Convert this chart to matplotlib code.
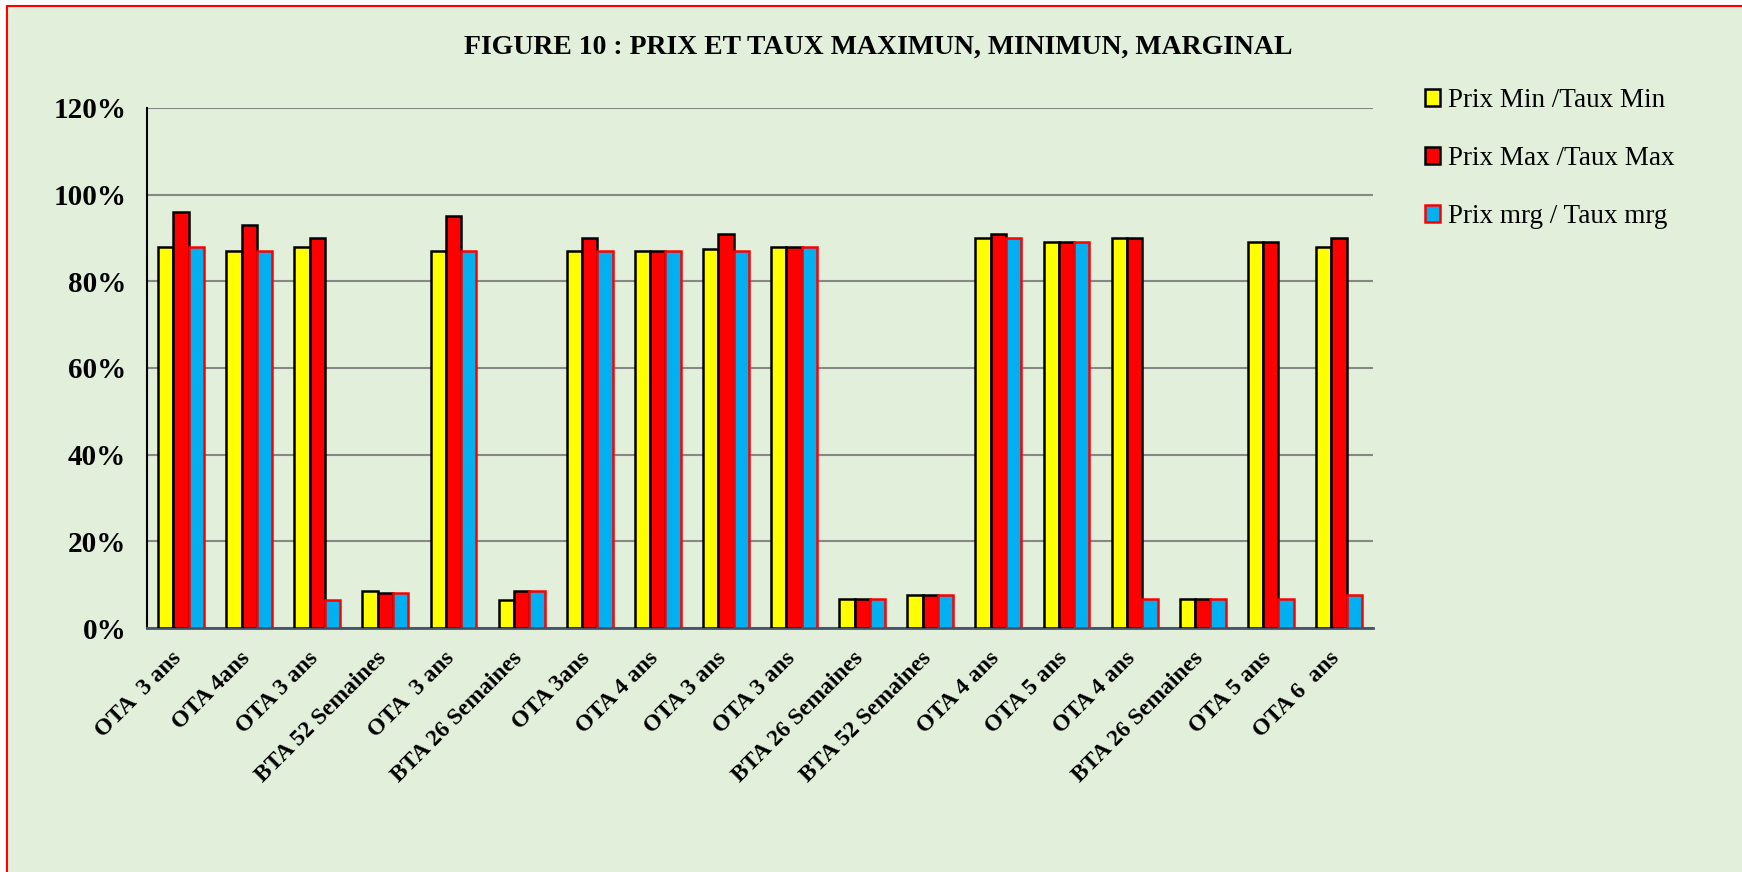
import matplotlib.pyplot as plt
import matplotlib.transforms as mtransforms
from matplotlib.patches import Rectangle, Patch
from matplotlib.ticker import PercentFormatter
import numpy as np

categories = ["OTA  3 ans", "OTA 4ans", "OTA 3 ans", "BTA 52 Semaines", "OTA  3 ans",
              "BTA 26 Semaines", "OTA 3ans", "OTA 4 ans", "OTA 3 ans", "OTA 3 ans",
              "BTA 26 Semaines", "BTA 52 Semaines", "OTA 4 ans", "OTA 5 ans", "OTA 4 ans",
              "BTA 26 Semaines", "OTA 5 ans", "OTA 6  ans"]
prix_min = [88, 87, 88, 8.6, 87, 6.5, 87, 87, 87.5, 88, 6.6, 7.6, 90, 89, 90, 6.6, 89, 88]
prix_max = [96, 93, 90, 8.1, 95, 8.6, 90, 87, 91, 88, 6.6, 7.6, 91, 89, 90, 6.6, 89, 90]
prix_mrg = [88, 87, 6.5, 8.1, 87, 8.6, 87, 87, 87, 88, 6.6, 7.6, 90, 89, 6.6, 6.6, 6.6, 7.6]
series_labels = ["Prix Min /Taux Min", "Prix Max /Taux Max", "Prix mrg / Taux mrg"]
yticks = [0, 20, 40, 60, 80, 100, 120]

bg = "#E2EFDA"
plt.rcParams["font.family"] = ["Liberation Serif", "DejaVu Serif"]

fig = plt.figure(figsize=(17.42, 8.72), dpi=100, facecolor="white")
frame = Rectangle((7 / 1742, -0.1), 1.2, 0.1 + 866 / 872, transform=fig.transFigure,
                  facecolor=bg, edgecolor="#FF0000", linewidth=1.5, zorder=-5)
fig.patches.append(frame)

ax = fig.add_axes([147 / 1742, 1 - 628 / 872, 1226 / 1742, 520 / 872])
ax.patch.set_alpha(0)

x = np.arange(len(categories))
w = 0.225
ax.bar(x - w, prix_min, w, color="#FFFF00", edgecolor="black", linewidth=1.8, zorder=3)
ax.bar(x, prix_max, w, color="#FF0000", edgecolor="black", linewidth=1.8, zorder=3)
ax.bar(x + w, prix_mrg, w, color="#00B0F0", edgecolor="#FF0000", linewidth=1.8, zorder=3)

ax.set_xlim(-0.5, len(categories) - 0.5)
ax.set_ylim(0, 120)
ax.set_yticks(yticks)
ax.yaxis.set_major_formatter(PercentFormatter(xmax=100, decimals=0))
ax.yaxis.grid(True, color="#878787", linewidth=1.5, zorder=0)
ax.set_axisbelow(True)
ax.tick_params(axis="y", length=0, pad=15)
ax.tick_params(axis="x", length=0, pad=14)
for lab in ax.get_yticklabels():
    lab.set_fontsize(21)
    lab.set_fontweight("bold")

ax.set_xticks(x)
ax.set_xticklabels(categories, rotation=45, ha="right", va="top",
                   fontsize=17, fontweight="bold")
shift = mtransforms.ScaledTranslation(5 / 100, 0, fig.dpi_scale_trans)
for lab in ax.get_xticklabels():
    lab.set_transform(lab.get_transform() + shift)

for s in ["top", "right"]:
    ax.spines[s].set_visible(False)
ax.spines["left"].set_color("black")
ax.spines["left"].set_linewidth(1.5)
ax.spines["bottom"].set_color("#44546A")
ax.spines["bottom"].set_linewidth(2)

fig.text(878 / 1742, 1 - 47 / 872, "FIGURE 10 : PRIX ET TAUX MAXIMUN, MINIMUN, MARGINAL",
         ha="center", va="center", fontsize=20, fontweight="bold")

handles = [Patch(facecolor="#FFFF00", edgecolor="black", linewidth=1.8),
           Patch(facecolor="#FF0000", edgecolor="black", linewidth=1.8),
           Patch(facecolor="#00B0F0", edgecolor="#FF0000", linewidth=1.8)]
fig.legend(handles, series_labels, loc="upper left", bbox_to_anchor=(1425 / 1742, 1 - 88 / 872),
           frameon=False, fontsize=19.5, handlelength=0.55, handleheight=0.55,
           handletextpad=0.3, labelspacing=1.22, borderpad=0, borderaxespad=0)

fig.savefig("out.png", dpi=100, facecolor="white")
